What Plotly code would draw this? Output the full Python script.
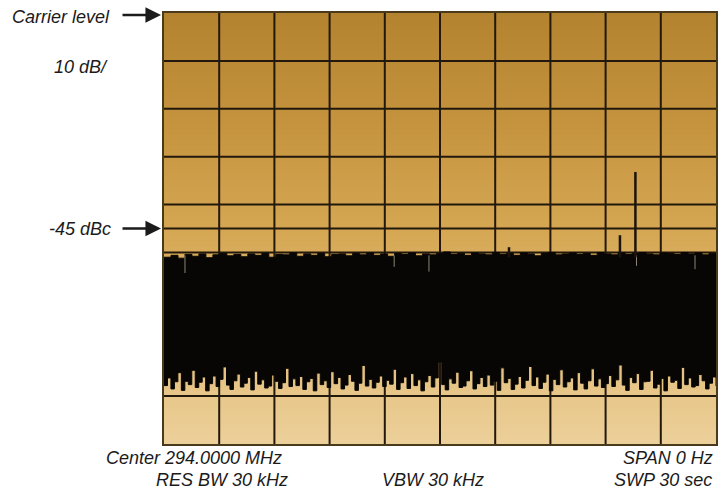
import plotly.graph_objects as go

# ---- data ----
# vertical scale: 10 dB/div, carrier level at top (0 dBc), 9 divisions
y_top_db = 0
y_bottom_db = -90
n_xdiv = 10
display_line_db = -45

# noise band envelope (dBc) across the 30 s zero-span sweep
noise_upper = [
    -51.0, -50.6, -51.2, -50.4, -50.8, -50.3, -51.1, -50.5, -50.2, -50.7,
    -50.4, -50.9, -50.3, -50.6, -50.2, -51.0, -50.4, -50.5, -50.1, -50.8,
    -50.3, -50.6, -50.2, -50.9, -50.4, -50.3, -50.7, -50.2, -50.5, -50.1,
    -50.6, -50.3, -50.8, -50.2, -50.4, -50.1, -50.7, -50.3, -50.5, -50.2,
    -49.9, -50.4, -50.2, -50.6, -50.1, -50.3, -50.5, -50.0, -50.4, -50.2,
    -50.6, -50.1, -50.3, -50.7, -50.2, -50.0, -50.5, -50.3, -50.1, -50.4,
    -50.2, -50.6, -50.0, -50.3, -50.5, -50.1, -50.4, -50.2, -50.0, -50.3,
    -50.5, -50.1, -50.2, -50.4, -50.0, -50.3, -50.1, -50.5, -50.2, -50.4,
]
noise_lower = [
    -77.8, -76.2, -78.5, -77.0, -75.1, -78.8, -76.9, -77.6, -74.6, -78.2,
    -77.1, -76.0, -78.9, -77.4, -75.8, -78.0, -76.5, -73.9, -77.7, -78.6,
    -76.8, -75.4, -78.1, -77.3, -76.1, -78.7, -74.8, -77.5, -76.6, -78.3,
    -77.9, -75.6, -76.9, -78.4, -77.2, -74.2, -78.0, -76.4, -77.8, -75.9,
    -78.6, -77.0, -76.3, -78.9, -75.2, -77.6, -76.8, -78.2, -74.9, -77.4,
    -76.1, -78.5, -77.7, -75.5, -76.9, -78.8, -77.3, -73.6, -77.9, -76.5,
    -78.3, -77.1, -75.8, -78.0, -76.7, -77.5, -74.4, -78.6, -77.2, -76.0,
    -78.4, -75.3, -77.8, -76.6, -78.9, -77.0, -75.7, -78.1, -76.2, -72.9,
    -77.6, -78.7, -76.4, -77.3, -75.0, -78.2, -77.9, -76.8, -74.7, -78.5,
    -77.4, -76.1, -78.0, -75.6, -77.7, -76.9, -78.8, -74.1, -77.2, -76.3,
    -78.6, -77.5, -75.9, -78.3, -76.7, -73.8, -77.8, -76.0, -78.4, -77.1,
    -75.4, -78.9, -76.5, -77.6, -74.5, -78.1, -77.0, -76.2, -78.7, -75.1,
    -77.3, -78.5, -76.8, -74.3, -77.9, -76.4, -78.2, -77.4, -75.7, -78.0,
    -76.6, -73.5, -77.7, -78.8, -76.1, -77.2, -75.3, -78.6, -77.0, -76.9,
    -74.6, -78.3, -77.5, -76.3, -78.9, -75.8, -77.1, -76.7, -78.4, -74.0,
    -77.6, -76.2, -78.1, -77.8, -75.5, -76.8, -78.5, -77.3, -76.0, -77.9,
]

# faint trace streaks visible just inside the top of the noise band (position, lowest dBc)
streak_pos = [0.38, 4.17, 4.80, 8.56, 9.62]
streak_low = [-54.3, -53.0, -54.0, -52.8, -53.5]

# discrete spurs rising out of the noise (position in divisions, peak dBc)
spur_pos = [6.25, 8.26, 8.54]
spur_peak = [-48.9, -46.4, -33.2]

left_labels = ["Carrier level", "10 dB/", "-45 dBc"]
bottom_labels = ["Center 294.0000 MHz", "SPAN 0 Hz", "RES BW 30 kHz", "VBW 30 kHz", "SWP 30 sec"]

# ---- figure ----
fig = go.Figure()

# screen background gradient (dark amber at top to pale tan at bottom)
bg_rows = list(range(y_bottom_db - 5, y_top_db + 6, 5))
fig.add_trace(go.Heatmap(
    x=[-1, n_xdiv + 1], y=bg_rows,
    z=[[v, v] for v in bg_rows],
    zmin=y_bottom_db, zmax=y_top_db, zsmooth="best", showscale=False,
    colorscale=[[0, "#ecd09a"], [0.25, "#e2bc76"], [0.5, "#d5a753"],
                [0.75, "#c5933e"], [1, "#b3832f"]],
    hoverinfo="skip",
))

# graticule
gx, gy = [], []
for i in range(1, n_xdiv):
    gx += [i, i, None]
    gy += [y_bottom_db, y_top_db, None]
for v in list(range(y_bottom_db + 10, y_top_db, 10)) + [display_line_db]:
    gx += [0, n_xdiv, None]
    gy += [v, v, None]
fig.add_trace(go.Scatter(x=gx, y=gy, mode="lines",
                         line=dict(color="#22180c", width=2), hoverinfo="skip"))

# noise band
xu = [i * n_xdiv / (len(noise_upper) - 1) for i in range(len(noise_upper))]
xl = [i * n_xdiv / (len(noise_lower) - 1) for i in range(len(noise_lower))]
fig.add_trace(go.Scatter(x=xu, y=noise_upper, mode="lines", line_shape="hv",
                         line=dict(color="#080604", width=1)))
fig.add_trace(go.Scatter(x=xl, y=noise_lower, mode="lines", line_shape="hv",
                         line=dict(color="#080604", width=1),
                         fill="tonexty", fillcolor="#080604"))

# faint streaks
tx, ty = [], []
for p, lo in zip(streak_pos, streak_low):
    tx += [p, p, None]
    ty += [-50.6, lo, None]
fig.add_trace(go.Scatter(x=tx, y=ty, mode="lines",
                         line=dict(color="#8c8474", width=1)))

# spurs
sx, sy = [], []
for p, pk in zip(spur_pos, spur_peak):
    sx += [p, p, None]
    sy += [-51, pk, None]
fig.add_trace(go.Scatter(x=sx, y=sy, mode="lines",
                         line=dict(color="#1c140c", width=2.5)))

font = dict(family="Liberation Sans, Arial, sans-serif", size=18, color="#1b1b1b", style="italic")

def px_to_xp(px):
    return (px - 164) / 554.0

def py_to_yp(py):
    return (444 - py) / 431.0

ann = []
# left labels
ann.append(dict(text=left_labels[0], xref="paper", yref="paper", x=px_to_xp(112), y=py_to_yp(17),
                xanchor="right", yanchor="middle", showarrow=False, font=font))
ann.append(dict(text=left_labels[1], xref="paper", yref="paper", x=px_to_xp(110), y=py_to_yp(67),
                xanchor="right", yanchor="middle", showarrow=False, font=font))
ann.append(dict(text=left_labels[2], xref="paper", yref="y", x=px_to_xp(113), y=display_line_db,
                xanchor="right", yanchor="middle", showarrow=False, font=font))
# arrows
arrow = dict(showarrow=True, arrowhead=2, arrowsize=1.2, arrowwidth=2.6, arrowcolor="#1b1b1b", text="")
ann.append(dict(xref="paper", yref="paper", x=px_to_xp(161), y=py_to_yp(15), ax=-40, ay=0, **arrow))
ann.append(dict(xref="paper", yref="y", x=px_to_xp(161), y=display_line_db, ax=-40, ay=0, **arrow))
# bottom labels
ann.append(dict(text=bottom_labels[0], xref="paper", yref="paper", x=px_to_xp(284), y=py_to_yp(458),
                xanchor="right", yanchor="middle", showarrow=False, font=font))
ann.append(dict(text=bottom_labels[1], xref="paper", yref="paper", x=px_to_xp(717), y=py_to_yp(458),
                xanchor="right", yanchor="middle", showarrow=False, font=font))
ann.append(dict(text=bottom_labels[2], xref="paper", yref="paper", x=px_to_xp(290), y=py_to_yp(480),
                xanchor="right", yanchor="middle", showarrow=False, font=font))
ann.append(dict(text=bottom_labels[3], xref="paper", yref="paper", x=px_to_xp(434), y=py_to_yp(480),
                xanchor="center", yanchor="middle", showarrow=False, font=font))
ann.append(dict(text=bottom_labels[4], xref="paper", yref="paper", x=px_to_xp(716), y=py_to_yp(480),
                xanchor="right", yanchor="middle", showarrow=False, font=font))

fig.update_layout(
    width=723, height=490,
    margin=dict(l=164, r=5, t=13, b=46),
    paper_bgcolor="white", plot_bgcolor="#d5a753",
    showlegend=False, annotations=ann,
)
fig.update_xaxes(range=[0, n_xdiv], showgrid=False, zeroline=False, showticklabels=False,
                 ticks="", showline=True, mirror=True, linecolor="#4a3a1c", linewidth=2)
fig.update_yaxes(range=[y_bottom_db, y_top_db], showgrid=False, zeroline=False, showticklabels=False,
                 ticks="", showline=True, mirror=True, linecolor="#4a3a1c", linewidth=2)

fig.write_html("out.html", config={"displayModeBar": False},
               post_script="document.body.style.margin='0';document.body.style.overflow='hidden';")
